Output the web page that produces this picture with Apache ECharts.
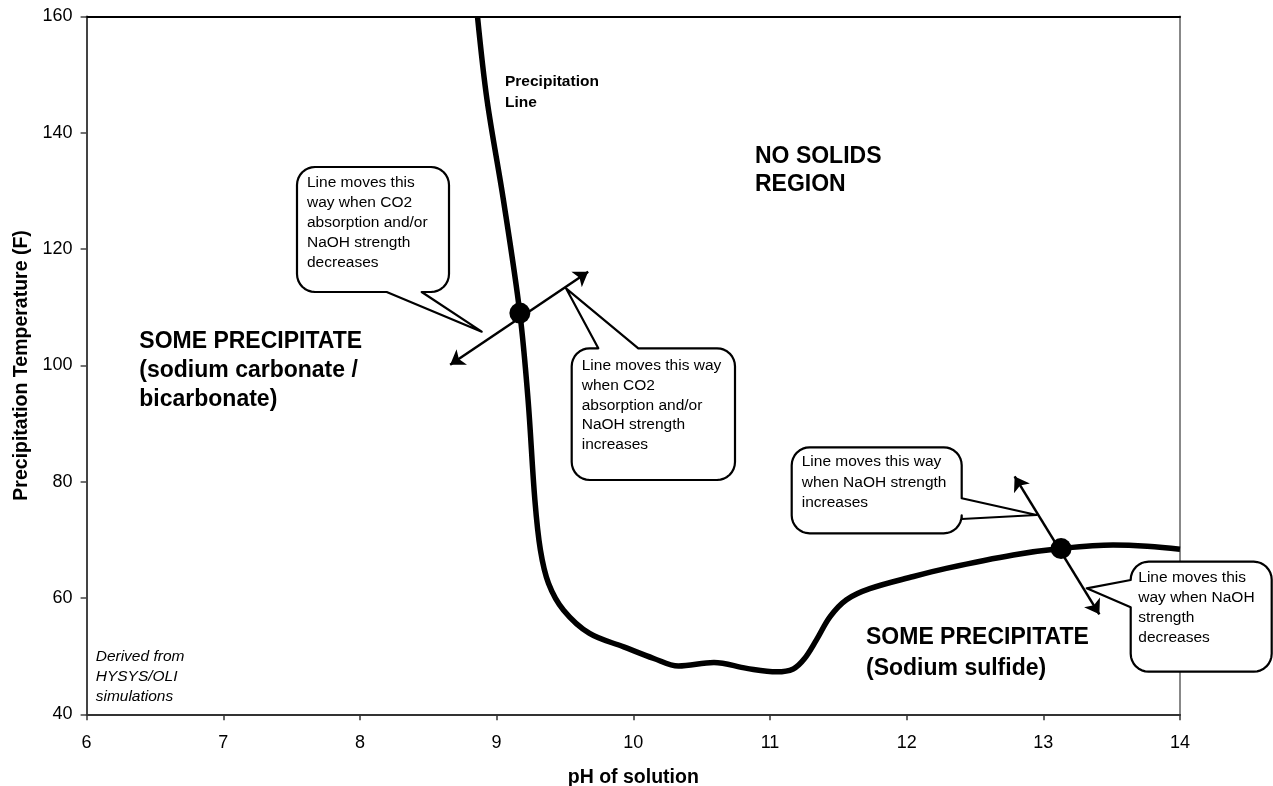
<!DOCTYPE html>
<html>
<head>
<meta charset="utf-8">
<script src="https://cdn.jsdelivr.net/npm/echarts@6/dist/echarts.min.js"></script>
<style>
html,body{margin:0;padding:0;background:#fff;}
#main{width:1273px;height:786px;}
</style>
</head>
<body>
<div id="main"></div>
<script>
// ---- data ----
var curvePH   = [8.86, 8.93, 9.05, 9.17, 9.23, 9.28, 9.32, 9.38, 9.49, 9.68, 9.93, 10.15, 10.33, 10.59, 10.83, 11.05, 11.17, 11.25, 11.34, 11.44, 11.56, 11.73, 12.05, 12.29, 12.78, 13.13, 13.51, 13.76, 14.0];
var curveTemp = [160, 145.6, 128.4, 109.0, 94.1, 76.8, 68.3, 62.5, 57.9, 53.9, 51.6, 49.6, 48.3, 48.9, 47.9, 47.3, 47.8, 49.5, 52.8, 56.8, 59.7, 61.6, 63.7, 65.1, 67.4, 68.5, 69.1, 68.9, 68.4];
var markerPH   = [9.17, 13.13];
var markerTemp = [109.0, 68.5];
var arrowStart = [[8.66, 100.1], [12.79, 80.9]];
var arrowEnd   = [[9.67, 116.1], [13.41, 57.2]];
var xTicks = [6, 7, 8, 9, 10, 11, 12, 13, 14];
var yTicks = [40, 60, 80, 100, 120, 140, 160];

var FONT = '"Liberation Sans", Arial, Helvetica, sans-serif';

function arcPts(cx, cy, r, a0, a1) {
  var pts = [], n = 8;
  for (var i = 0; i <= n; i++) {
    var a = a0 + (a1 - a0) * i / n;
    pts.push([cx + r * Math.cos(a), cy + r * Math.sin(a)]);
  }
  return pts;
}
function callout(x0, y0, x1, y1, r, side, b1, b2, tip) {
  var P = Math.PI, pts = [];
  pts = pts.concat(arcPts(x0 + r, y0 + r, r, P, 1.5 * P));
  if (side === 'top') pts.push([b1, y0], tip, [b2, y0]);
  pts = pts.concat(arcPts(x1 - r, y0 + r, r, 1.5 * P, 2 * P));
  if (side === 'right') pts.push([x1, b1], tip, [x1, b2]);
  pts = pts.concat(arcPts(x1 - r, y1 - r, r, 0, 0.5 * P));
  if (side === 'bottom') pts.push([b2, y1], tip, [b1, y1]);
  pts = pts.concat(arcPts(x0 + r, y1 - r, r, 0.5 * P, P));
  if (side === 'left') pts.push([x0, b2], tip, [x0, b1]);
  return {
    type: 'polygon', z: 100,
    shape: { points: pts },
    style: { fill: '#fff', stroke: '#000', lineWidth: 2.2, lineJoin: 'round' }
  };
}
function txt(text, x, y, font, lh) {
  return {
    type: 'text', z: 101,
    style: { text: text, x: x, y: y, font: font, lineHeight: lh, fill: '#000', textVerticalAlign: 'top' }
  };
}

var chart = echarts.init(document.getElementById('main'), null, { renderer: 'canvas' });
var curveData = curvePH.map(function (v, i) { return [v, curveTemp[i]]; });
var markerData = markerPH.map(function (v, i) { return [v, markerTemp[i]]; });
var arrowData = arrowStart.map(function (s, i) { return { coords: [s, arrowEnd[i]] }; });

var option = {
  animation: false,
  backgroundColor: '#fff',
  grid: { left: 86.6, right: 93, top: 16.5, bottom: 71.7, containLabel: false, outerBoundsMode: 'none' },
  xAxis: [{
    type: 'value', min: xTicks[0], max: xTicks[xTicks.length - 1], interval: 1,
    name: 'pH of solution', nameLocation: 'middle', nameGap: 53,
    nameTextStyle: { fontFamily: FONT, fontWeight: 'bold', fontSize: 19.5, color: '#000' },
    axisLine: { lineStyle: { color: '#333', width: 2 } },
    axisTick: { show: true, length: 6, lineStyle: { color: '#333', width: 1.5 } },
    axisLabel: { fontFamily: FONT, fontSize: 18, color: '#000', margin: 20 },
    splitLine: { show: false }
  }, {
    type: 'value', position: 'top', min: 6, max: 14,
    axisLine: { show: true, lineStyle: { color: '#000', width: 2 } },
    axisTick: { show: false }, axisLabel: { show: false }, splitLine: { show: false }
  }],
  yAxis: [{
    type: 'value', min: yTicks[0], max: yTicks[yTicks.length - 1], interval: 20,
    name: 'Precipitation Temperature (F)', nameLocation: 'middle', nameGap: 55,
    nameTextStyle: { fontFamily: FONT, fontWeight: 'bold', fontSize: 19.5, color: '#000' },
    axisLine: { show: true, lineStyle: { color: '#444', width: 2 } },
    axisTick: { show: true, length: 6, lineStyle: { color: '#444', width: 1.5 } },
    axisLabel: { fontFamily: FONT, fontSize: 18, color: '#000', margin: 14 },
    splitLine: { show: false }
  }, {
    type: 'value', position: 'right', min: 40, max: 160,
    axisLine: { show: true, lineStyle: { color: '#888', width: 2 } },
    axisTick: { show: false }, axisLabel: { show: false }, splitLine: { show: false }
  }],
  series: [{
    type: 'line', data: curveData, smooth: 0.35, symbol: 'none', clip: true,
    lineStyle: { color: '#000', width: 5.5 }, z: 3
  }, {
    type: 'lines', coordinateSystem: 'cartesian2d', data: arrowData,
    symbol: ['arrow', 'arrow'], symbolSize: 14,
    lineStyle: { color: '#000', width: 2.5, opacity: 1 }, z: 4
  }, {
    type: 'scatter', data: markerData, symbol: 'circle', symbolSize: 21,
    itemStyle: { color: '#000', opacity: 1 }, z: 5
  }],
  graphic: [
    callout(297, 167, 449, 292, 18, 'bottom', 386.7, 421.7, [481.7, 331.7]),
    callout(571.7, 348.3, 735, 480, 18, 'top', 598.3, 638.3, [566, 288.3]),
    callout(791.7, 447.3, 961.7, 533.3, 18, 'right', 498.3, 519, [1036.7, 515]),
    callout(1130.7, 561.7, 1271.7, 671.7, 18, 'left', 580, 607.3, [1086.7, 588.3]),
    txt('Line moves this\nway when CO2\nabsorption and/or\nNaOH strength\ndecreases', 307, 173, '15.5px ' + FONT, 20),
    txt('Line moves this way\nwhen CO2\nabsorption and/or\nNaOH strength\nincreases', 581.7, 356, '15.5px ' + FONT, 19.75),
    txt('Line moves this way\nwhen NaOH strength\nincreases', 801.7, 451.5, '15.5px ' + FONT, 20.5),
    txt('Line moves this\nway when NaOH\nstrength\ndecreases', 1138.3, 567.5, '15.5px ' + FONT, 20),
    txt('NO SOLIDS\nREGION', 755, 142, 'bold 23px ' + FONT, 28.5),
    txt('SOME PRECIPITATE\n(sodium carbonate /\nbicarbonate)', 139.3, 327, 'bold 23px ' + FONT, 29.2),
    txt('SOME PRECIPITATE\n(Sodium sulfide)', 866, 622, 'bold 23px ' + FONT, 31),
    txt('Precipitation\nLine', 505, 71.2, 'bold 15.5px ' + FONT, 21),
    txt('Derived from\nHYSYS/OLI\nsimulations', 95.7, 646.7, 'italic 15.5px ' + FONT, 20)
  ]
};
chart.setOption(option);
</script>
</body>
</html>
